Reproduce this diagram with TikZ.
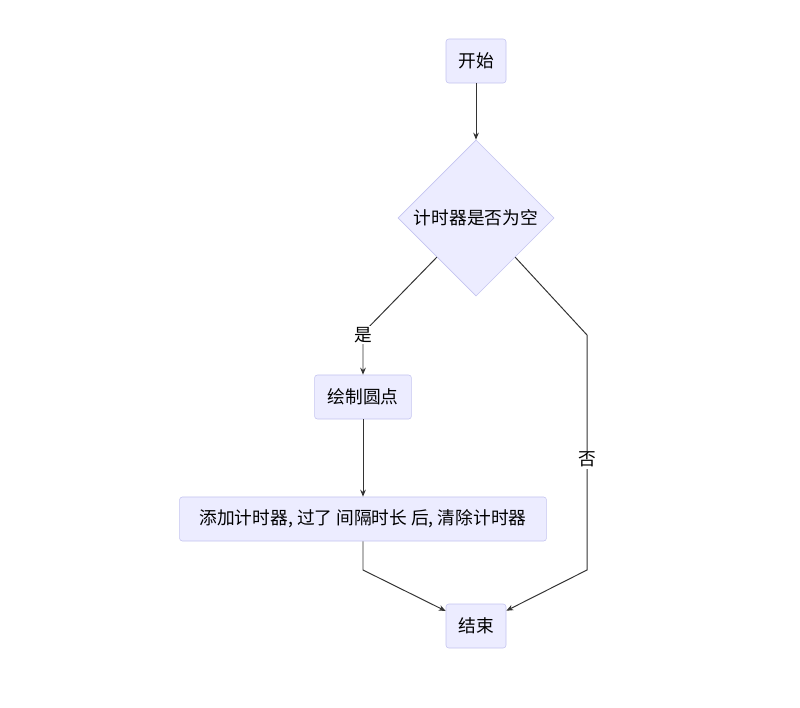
\documentclass[tikz,border=0pt]{standalone}
\usepackage{fontspec}
\setmainfont{Noto Sans CJK SC}
\usetikzlibrary{shapes.geometric,arrows.meta}
\definecolor{boxfill}{HTML}{ECECFF}
\definecolor{boxline}{HTML}{C4C4F0}
\definecolor{edgecol}{HTML}{333333}
\begin{document}
\begin{tikzpicture}[x=0.025cm,y=-0.025cm,
  every node/.style={font=\fontsize{12.6}{15}\selectfont},
  stepbox/.style={draw=boxline,fill=boxfill,rounded corners=2pt,minimum height=1.1cm,inner xsep=8pt},
  choice/.style={diamond,draw=boxline,fill=boxfill,minimum width=3.9cm,minimum height=3.9cm,inner sep=0pt},
  edge/.style={draw=edgecol,line width=0.7pt,-{Stealth[length=5pt,width=4pt]}},
  elabel/.style={fill=white,inner sep=1pt}]
\useasboundingbox (0,0) rectangle (800,708);
\node[stepbox,minimum width=1.5cm] (start) at (476,61) {开始};
\node[choice] (empty) at (476,218) {计时器是否为空};
\node[stepbox,minimum width=2.42cm] (dot) at (363,397) {绘制圆点};
\node[stepbox,minimum width=9.17cm] (timer) at (363,519) {添加计时器, 过了 间隔时长 后, 清除计时器};
\node[stepbox,minimum width=1.5cm] (stop) at (476,626) {结束};
\coordinate (yesbend) at (363,333);
\coordinate (nobend) at (587,335);
\coordinate (nolow) at (587,570);
\coordinate (timerlow) at (363,570);
% edges
\draw[edge] (start) -- (empty);
\draw[edge] (empty.south west) -- (yesbend) -- node[elabel,pos=0.05] {是} (dot);
\draw[edge] (dot) -- (timer);
\draw[edge] (empty.south east) -- (nobend) -- node[elabel,pos=0.53] {否} (nolow) -- (stop);
\draw[edge] (timer) -- (timerlow) -- (stop);
\end{tikzpicture}
\end{document}
